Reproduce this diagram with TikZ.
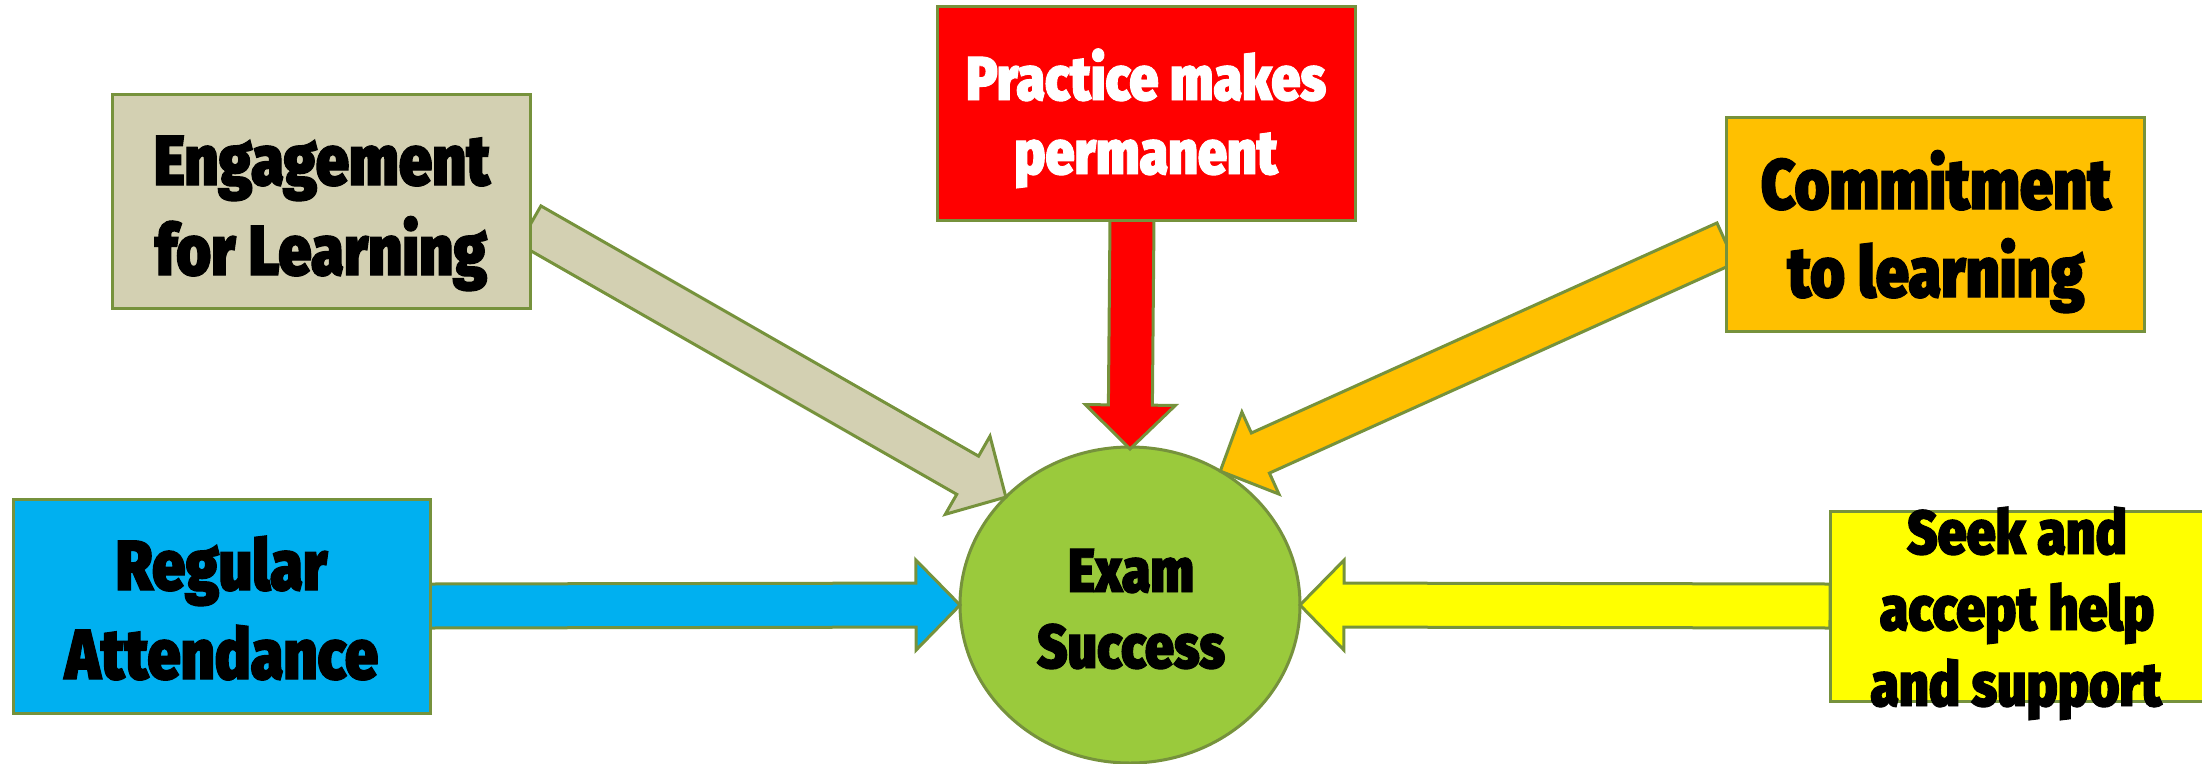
\documentclass[tikz,border=0pt]{standalone}
\usepackage{fontspec}
\usetikzlibrary{calc,shapes.geometric}
\newfontfamily\hv{Fira Sans}[UprightFont=* Black, FakeStretch=0.84, FakeBold=1.5]
\definecolor{edgegreen}{RGB}{118,146,60}
\definecolor{tanfill}{RGB}{211,208,178}
\definecolor{redfill}{RGB}{255,0,0}
\definecolor{orangefill}{RGB}{255,192,0}
\definecolor{bluefill}{RGB}{0,176,240}
\definecolor{yellowfill}{RGB}{255,255,0}
\definecolor{ellfill}{RGB}{154,202,60}
\pgfdeclarelayer{fg}
\pgfsetlayers{main,fg}
\newcommand{\fatarrow}[3]{%
  \coordinate (ahb) at ($(#2)!44pt!(#1)$);
  \draw[arrowline, fill=#3]
    ($(#1)!22pt!90:(#2)$) -- ($(ahb)!22pt!90:(#2)$) -- ($(ahb)!45pt!90:(#2)$)
    -- (#2) -- ($(ahb)!45pt!-90:(#2)$) -- ($(ahb)!22pt!-90:(#2)$)
    -- ($(#1)!22pt!-90:(#2)$) -- cycle;}
\begin{document}
\begin{tikzpicture}[x=1pt,y=1pt,
  box/.style={draw=edgegreen, line width=3pt, rectangle, inner sep=0pt, outer sep=0pt},
  arrowline/.style={draw=edgegreen, line width=3pt, line join=miter},
  bigtxt/.style={anchor=base, inner sep=0pt, font=\hv\fontsize{71pt}{80pt}\selectfont},
  smalltxt/.style={anchor=base, inner sep=0pt, font=\hv\fontsize{62pt}{70pt}\selectfont}]
\useasboundingbox (0,0) rectangle (2202,-763);
\begin{pgfonlayer}{fg}
  \node[box, fill=tanfill, minimum width=418pt, minimum height=214pt] (eng) at (321,-201) {};
  \node[bigtxt] (eng1) at (322,-185) {Engagement};
  \node[bigtxt] (eng2) at (321,-275) {for Learning};
  \node[box, fill=redfill, minimum width=418pt, minimum height=214pt] (prac) at (1146,-113) {};
  \node[smalltxt, text=white] (prac1) at (1146,-100) {Practice makes};
  \node[smalltxt, text=white] (prac2) at (1146,-174) {permanent};
  \node[box, fill=orangefill, minimum width=418pt, minimum height=214pt] (com) at (1935,-224) {};
  \node[bigtxt] (com1) at (1936,-209) {Commitment};
  \node[bigtxt] (com2) at (1936,-297) {to learning};
  \node[box, fill=bluefill, minimum width=417pt, minimum height=214pt] (reg) at (221.5,-606) {};
  \node[bigtxt] (reg1) at (221.5,-590) {Regular};
  \node[bigtxt] (reg2) at (221.5,-679) {Attendance};
  \node[box, fill=yellowfill, minimum width=374pt, minimum height=190pt] (seek) at (2017,-606) {};
  \node[smalltxt] (seek1) at (2017,-554) {Seek and};
  \node[smalltxt] (seek2) at (2017,-630) {accept help};
  \node[smalltxt] (seek3) at (2016,-706) {and support};
\end{pgfonlayer}
\node[ellipse, draw=edgegreen, line width=3pt, fill=ellfill, minimum width=340pt, minimum height=316pt, inner sep=0pt, outer sep=0pt] (ex) at (1130,-605) {};
\coordinate (engS) at ($(eng.east)+(0,-24)$);
\coordinate (comS) at ($(com.west)+(0,-19)$);
\coordinate (pracS) at ($(prac.south)+(-14,0)$);
\coordinate (pracT) at ($(ex.north)+(0,-2)$);
\fatarrow{engS}{ex.139}{tanfill}
\fatarrow{pracS}{pracT}{redfill}
\fatarrow{comS}{ex.56}{orangefill}
\fatarrow{reg.east}{ex.west}{bluefill}
\fatarrow{seek.west}{ex.east}{yellowfill}
\node[smalltxt] (ex1) at (1131,-592) {Exam};
\node[smalltxt] (ex2) at (1131,-668) {Success};
\end{tikzpicture}
\end{document}
